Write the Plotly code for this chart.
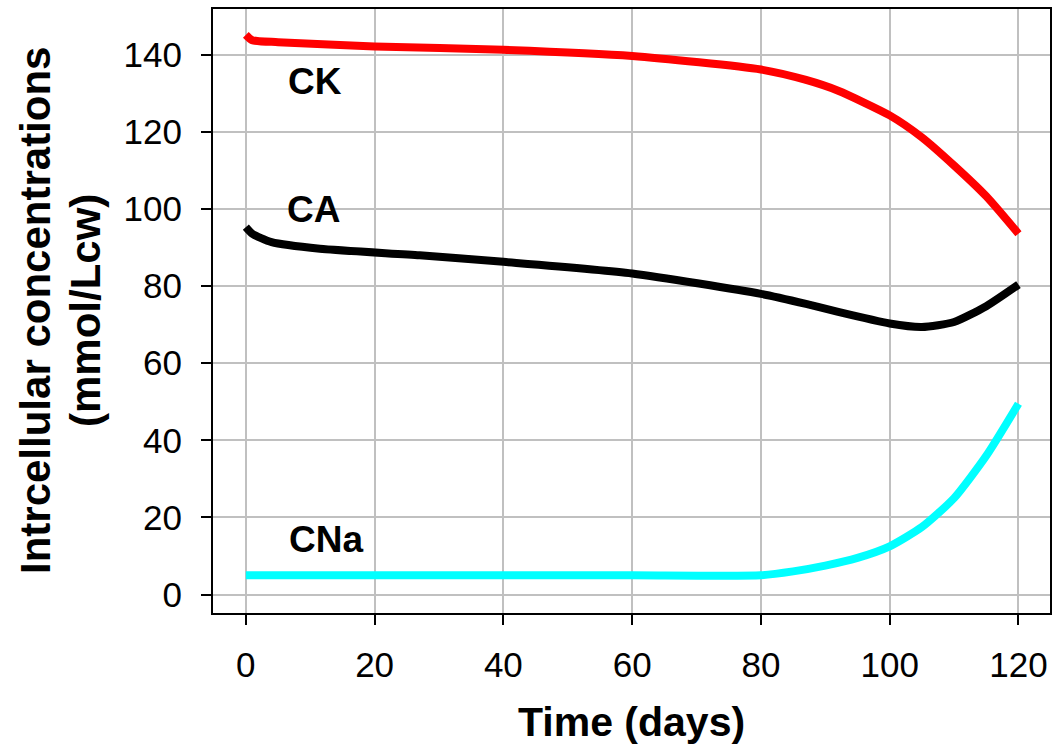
import plotly.graph_objects as go

# Data
ck_x = [0, 1, 5, 20, 40, 60, 80, 87, 92, 100, 105, 110, 115, 120]
ck_y = [145.2, 143.8, 143.3, 142.2, 141.3, 139.7, 136.2, 133.5, 130.7, 124.3, 118.6, 111.3, 103.3, 93.6]

ca_x = [0, 1, 4, 11.5, 27, 40, 60, 80, 87, 92, 100, 105, 110, 115, 120]
ca_y = [95.3, 93.6, 91.4, 89.7, 88.0, 86.3, 83.3, 78.0, 75.4, 73.3, 70.3, 69.4, 70.7, 74.8, 80.4]

cna_x = [0, 20, 40, 60, 80, 85, 90, 95, 100, 105, 110, 115, 120]
cna_y = [5, 5, 5, 5, 5, 6, 7.5, 9.5, 12.5, 17.5, 25, 36, 49.5]

x_ticks = [0, 20, 40, 60, 80, 100, 120]
y_ticks = [0, 20, 40, 60, 80, 100, 120, 140]

labels = ["CK", "CA", "CNa"]
label_x = [10.7, 10.5, 12.4]
label_y = [133.0, 100.0, 14.3]

font = "Liberation Sans, Arial, sans-serif"

fig = go.Figure()
for xs, ys, col in [(ck_x, ck_y, "#ff0000"), (ca_x, ca_y, "#000000"), (cna_x, cna_y, "#00ffff")]:
    fig.add_trace(go.Scatter(x=xs, y=ys, mode="lines",
                             line=dict(color=col, width=8, shape="spline", smoothing=0.6),
                             showlegend=False))

for t, lx, ly in zip(labels, label_x, label_y):
    fig.add_annotation(x=lx, y=ly, text="<b>%s</b>" % t, showarrow=False,
                       xanchor="center", yanchor="middle",
                       font=dict(family=font, size=37, color="black"))

fig.add_annotation(xref="paper", yref="paper", x=0, y=0.5, xshift=-178, text="<b>Intrcellular concentrations</b>",
                   textangle=-90, showarrow=False, xanchor="center", yanchor="middle",
                   font=dict(family=font, size=42, color="black"))
fig.add_annotation(xref="paper", yref="paper", x=0, y=0.5, xshift=-128, text="<b>(mmol/Lcw)</b>",
                   textangle=-90, showarrow=False, xanchor="center", yanchor="middle",
                   font=dict(family=font, size=42, color="black"))
fig.add_annotation(xref="paper", yref="paper", x=0.5, y=0, yshift=-109, text="<b>Time (days)</b>",
                   showarrow=False, xanchor="center", yanchor="middle",
                   font=dict(family=font, size=41, color="black"))

axis_common = dict(showgrid=True, gridcolor="#c0c0c0", gridwidth=2,
                   showline=True, linecolor="black", linewidth=2, mirror=True,
                   ticks="outside", ticklen=10, tickwidth=2, tickcolor="black",
                   tickfont=dict(family=font, size=35, color="black"), zeroline=False)

fig.update_xaxes(range=[-5.1, 124.9], tickvals=x_ticks, ticktext=[str(v) for v in x_ticks],
                 ticklabelstandoff=10, **axis_common)
fig.update_yaxes(range=[-4.8, 151.9], tickvals=y_ticks, ticktext=[str(v) for v in y_ticks],
                 ticklabelstandoff=12, **axis_common)

fig.update_layout(width=1055, height=751, margin=dict(l=213, r=3, t=9, b=138),
                  plot_bgcolor="white", paper_bgcolor="white")

fig.write_html("out.html")
